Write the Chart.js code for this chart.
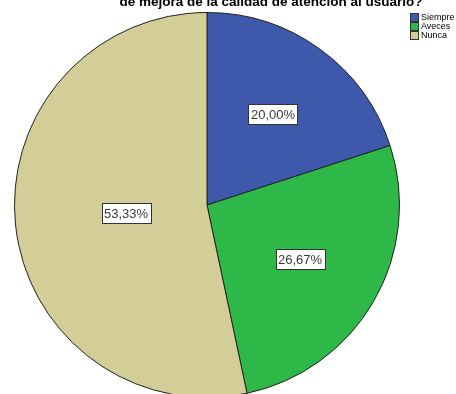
<!DOCTYPE html>
<html>
<head>
<meta charset="utf-8">
<script src="https://cdn.jsdelivr.net/npm/chart.js@4"></script>
<style>
  html, body { margin: 0; padding: 0; background: #fff; overflow: hidden; }
  #wrap { width: 456px; height: 394px; overflow: hidden; }
</style>
</head>
<body>
<div id="wrap"><canvas id="pie" width="456" height="400"></canvas></div>
<script>
// Respuestas a la pregunta de la encuesta
const categories = ['Siempre', 'Aveces', 'Nunca'];
const counts = [3, 4, 8];
const sliceColors = ['#3E58AC', '#2EB848', '#D3CE97'];
const titleText = 'de mejora de la calidad de atención al usuario?';

const total = counts.reduce((a, b) => a + b, 0);
const pctLabel = v => (v / total * 100).toFixed(2).replace('.', ',') + '%';

// Percentage boxes placed near each slice's centroid
const sliceLabels = {
  id: 'sliceLabels',
  afterDatasetsDraw(chart) {
    const ctx = chart.ctx;
    const meta = chart.getDatasetMeta(0);
    ctx.save();
    ctx.font = '13px "Liberation Sans", Arial, sans-serif';
    ctx.textAlign = 'center';
    ctx.textBaseline = 'middle';
    meta.data.forEach((arc, i) => {
      const { x, y, startAngle, endAngle, outerRadius } = arc.getProps(['x', 'y', 'startAngle', 'endAngle', 'outerRadius'], true);
      const theta = endAngle - startAngle;
      const mid = (startAngle + endAngle) / 2;
      const centroid = 4 * outerRadius * Math.sin(theta / 2) / (3 * theta);
      const d = 0.7 * centroid + 0.145 * outerRadius;
      const cx = x + Math.cos(mid) * d;
      const cy = y + Math.sin(mid) * d;
      const text = pctLabel(counts[i]);
      const w = Math.round(ctx.measureText(text).width) + 5;
      const h = 20;
      const bx = Math.round(cx - w / 2) + 0.5;
      const by = Math.round(cy - h / 2) + 0.5;
      ctx.fillStyle = '#ffffff';
      ctx.fillRect(bx, by, w, h);
      ctx.strokeStyle = '#333333';
      ctx.lineWidth = 1;
      ctx.strokeRect(bx, by, w, h);
      ctx.fillStyle = '#3a3a3a';
      ctx.fillText(text, Math.round(cx), Math.round(cy) + 1);
    });
    ctx.restore();
  }
};

// Title line and legend drawn on the canvas
const titleAndLegend = {
  id: 'titleAndLegend',
  afterDraw(chart) {
    const ctx = chart.ctx;
    ctx.save();
    ctx.fillStyle = '#000000';
    ctx.font = 'bold 13.5px "Liberation Sans", Arial, sans-serif';
    ctx.textAlign = 'center';
    ctx.textBaseline = 'alphabetic';
    ctx.fillText(titleText, 271, 6);

    ctx.font = '9px "Liberation Sans", Arial, sans-serif';
    ctx.textAlign = 'left';
    ctx.textBaseline = 'middle';
    categories.forEach((c, i) => {
      const top = 13 + i * 9;
      ctx.fillStyle = sliceColors[i];
      ctx.fillRect(410.5, top + 0.5, 8, 8);
      ctx.strokeStyle = '#333333';
      ctx.lineWidth = 1;
      ctx.strokeRect(410.5, top + 0.5, 8, 8);
      ctx.fillStyle = '#000000';
      ctx.fillText(c, 421, top + 5);
    });
    ctx.restore();
  }
};

new Chart(document.getElementById('pie'), {
  type: 'pie',
  data: {
    labels: categories,
    datasets: [{
      data: counts,
      backgroundColor: sliceColors,
      borderColor: '#222222',
      borderWidth: 1
    }]
  },
  options: {
    responsive: false,
    animation: false,
    layout: { padding: { left: 14, top: 12, right: 56, bottom: 2 } },
    plugins: {
      legend: { display: false },
      tooltip: { enabled: false },
      title: { display: false }
    }
  },
  plugins: [sliceLabels, titleAndLegend]
});
</script>
</body>
</html>
